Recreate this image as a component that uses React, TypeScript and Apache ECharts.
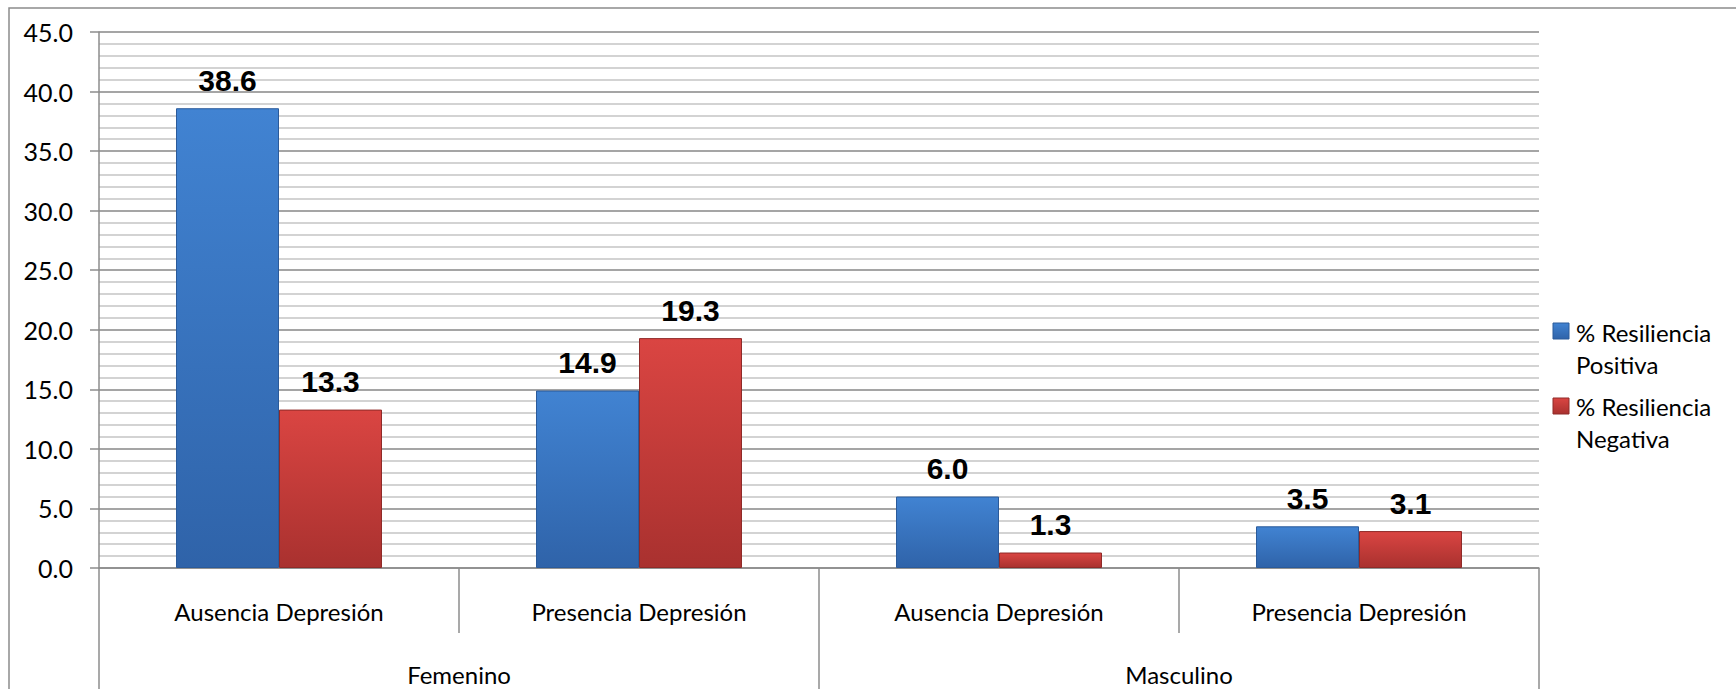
import React, { useEffect, useRef } from "react";
import * as echarts from "echarts";

const categories = ["Ausencia Depresión", "Presencia Depresión", "Ausencia Depresión", "Presencia Depresión"];
const groups = ["Femenino", "Masculino"];
const seriesNames = ["% Resiliencia Positiva", "% Resiliencia Negativa"];
const positiva = [38.6, 14.9, 6.0, 3.5];
const negativa = [13.3, 19.3, 1.3, 3.1];

const FONT = "Lato";

const blueFill = new echarts.graphic.LinearGradient(0, 0, 0, 1, [
  { offset: 0, color: "#4183d2" },
  { offset: 1, color: "#2f63a9" },
]);
const redFill = new echarts.graphic.LinearGradient(0, 0, 0, 1, [
  { offset: 0, color: "#da4542" },
  { offset: 1, color: "#a9312f" },
]);

export default function App() {
  const ref = useRef<HTMLDivElement>(null);
  useEffect(() => {
    if (!ref.current) return;
    const chart = echarts.init(ref.current, null, { renderer: "svg" });
    const labelCfg = {
      show: true,
      position: "top",
      distance: 13,
      fontFamily: "Liberation Sans",
      fontWeight: "bold",
      fontSize: 30,
      color: "#000",
      formatter: (p: any) => Number(p.value).toFixed(1),
    };
    chart.setOption({
      animation: false,
      backgroundColor: "#fff",
      grid: { left: 99, right: 197, top: 32, bottom: 121, containLabel: false },
      xAxis: [
        {
          type: "category",
          data: categories,
          axisLine: { show: true, lineStyle: { color: "#8c8c8c", width: 1.5 } },
          axisTick: { show: true, length: 65, interval: 0, alignWithLabel: false, lineStyle: { color: "#8c8c8c", width: 1.5 } },
          axisLabel: { interval: 0, margin: 30, fontSize: 24, lineHeight: 26, fontFamily: FONT, color: "#000" },
          splitLine: { show: false },
        },
        {
          type: "category",
          data: groups,
          position: "bottom",
          offset: 65,
          axisLine: { show: false },
          axisTick: { show: true, length: 70, interval: 0, alignWithLabel: false, lineStyle: { color: "#8c8c8c", width: 1.5 } },
          axisLabel: { interval: 0, margin: 29, fontSize: 24, lineHeight: 24, fontFamily: FONT, color: "#000" },
          splitLine: { show: false },
        },
      ],
      yAxis: {
        type: "value",
        min: 0,
        max: 45,
        interval: 5,
        axisLine: { show: true, lineStyle: { color: "#8c8c8c", width: 1.5 } },
        axisTick: { show: true, length: 9, lineStyle: { color: "#8c8c8c", width: 1.5 } },
        axisLabel: {
          margin: 26,
          fontSize: 25,
          fontFamily: FONT,
          color: "#000",
          formatter: (v: number) => v.toFixed(1),
        },
        splitLine: { show: true, lineStyle: { color: "#878787", width: 1.5 } },
        minorTick: { show: false, splitNumber: 5 },
        minorSplitLine: { show: true, lineStyle: { color: "#c4c4c4", width: 1.5 } },
      },
      series: [
        {
          name: seriesNames[0],
          type: "bar",
          xAxisIndex: 0,
          data: positiva,
          barWidth: 103,
          barGap: "0%",
          itemStyle: { color: blueFill, borderColor: "#2a5a9a", borderWidth: 1 },
          label: labelCfg,
        },
        {
          name: seriesNames[1],
          type: "bar",
          xAxisIndex: 0,
          data: negativa,
          barWidth: 103,
          barGap: "0%",
          itemStyle: { color: redFill, borderColor: "#8f2a28", borderWidth: 1 },
          label: labelCfg,
        },
      ],
      graphic: [
        {
          type: "rect",
          silent: true,
          shape: { x: 9, y: 8, width: 1800, height: 800 },
          style: { fill: "none", stroke: "#8c8c8c", lineWidth: 1.5 },
        },
        {
          type: "rect",
          shape: { x: 1553, y: 323, width: 16, height: 16 },
          style: { fill: blueFill, stroke: "#2a5a9a", lineWidth: 1 },
        },
        {
          type: "text",
          x: 1576,
          y: 316,
          style: {
            text: "% Resiliencia\nPositiva",
            fontSize: 24,
            fontFamily: FONT,
            fill: "#000",
            lineHeight: 32,
            verticalAlign: "top",
            align: "left",
          },
        },
        {
          type: "rect",
          shape: { x: 1553, y: 398, width: 16, height: 16 },
          style: { fill: redFill, stroke: "#8f2a28", lineWidth: 1 },
        },
        {
          type: "text",
          x: 1576,
          y: 390,
          style: {
            text: "% Resiliencia\nNegativa",
            fontSize: 24,
            fontFamily: FONT,
            fill: "#000",
            lineHeight: 32,
            verticalAlign: "top",
            align: "left",
          },
        },
      ],
    });
    return () => chart.dispose();
  }, []);
  return (
    <div
      ref={ref}
      style={{ position: "fixed", left: 0, top: 0, width: 1736, height: 689 }}
    />
  );
}
